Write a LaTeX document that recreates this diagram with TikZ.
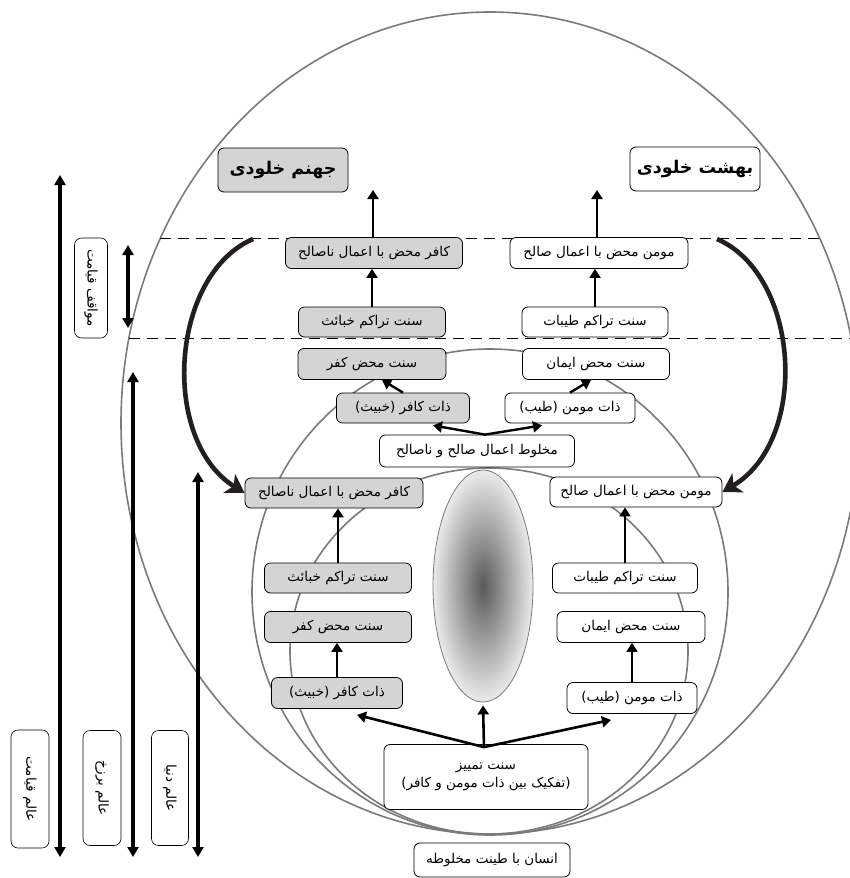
\documentclass[tikz,border=0pt]{standalone}
\usepackage{fontspec}
\usetikzlibrary{arrows.meta,shapes.geometric,calc}
\TeXXeTstate=1
\newfontfamily\farsifont[Script=Arabic]{DejaVu Sans}
\newcommand{\myrtl}[1]{\beginR #1\endR}
\definecolor{boxgray}{HTML}{D4D4D4}
\definecolor{curvegray}{HTML}{7A7A7A}
\definecolor{darkcurve}{HTML}{231F20}
\begin{document}
\begin{tikzpicture}[x=1pt,y=-1pt,
  box/.style={draw, rounded corners=6pt, line width=0.8pt, inner sep=0.5pt,
    minimum height=30pt, font=\farsifont\fontsize{13.5}{15}\selectfont},
  gbox/.style={box, fill=boxgray},
  wbox/.style={box, fill=white},
  titlebox/.style={box, minimum height=44pt, minimum width=130pt,
    font=\farsifont\bfseries\fontsize{17.5}{20}\selectfont},
  sidelabel/.style={draw, rounded corners=7pt, line width=0.6pt, rotate=-90,
    inner sep=1pt, font=\farsifont\fontsize{13.5}{15}\selectfont},
  curve/.style={draw=curvegray, line width=1.6pt},
  arr/.style={line width=2.6pt, -{Triangle[length=9pt,width=11pt]}},
  darr/.style={line width=2.4pt, -{Triangle[length=9pt,width=11pt]}},
  sidearr/.style={line width=3.4pt, {Triangle[length=10pt,width=11pt]}-{Triangle[length=10pt,width=11pt]}},
  bigarr/.style={line width=4.6pt, draw=darkcurve, -{Stealth[length=18pt,width=22pt,inset=5pt]}},
  dashline/.style={line width=0.8pt, dash pattern=on 11pt off 7pt}
]
\useasboundingbox (0,0) rectangle (850,878);
\clip (0,0) rectangle (850,878);

% nested worlds
\draw[curve] (490,423) ellipse [x radius=369pt, y radius=411pt];
\draw[curve] (490,592) ellipse [x radius=238pt, y radius=243pt];
\draw[curve] (489,651) ellipse [x radius=199pt, y radius=183pt];

% dashed boundaries
\coordinate (d1l) at (160,238); \coordinate (d1r) at (820,238);
\coordinate (d2l) at (129,338); \coordinate (d2r) at (851,338);
\draw[dashline] (d1l) -- (d1r);
\draw[dashline] (d2l) -- (d2r);

% shaded middle ellipse
\node[ellipse, draw=curvegray, line width=0.8pt, inner sep=0pt,
  minimum width=100pt, minimum height=232pt,
  shade, inner color=black!65, outer color=black!8] (egg) at (483,586) {};

% top
\node[titlebox, fill=boxgray] (jah) at (283,170) {\myrtl{جهنم خلودی}};
\node[titlebox, fill=white] (bah) at (695,169) {\myrtl{بهشت خلودی}};

% upper column
\node[gbox, minimum width=177pt, minimum height=31pt] (kafU) at (374,253) {\myrtl{کافر محض با اعمال ناصالح}};
\node[wbox, minimum width=178pt, minimum height=31pt] (mumU) at (599,253) {\myrtl{مومن محض با اعمال صالح}};
\node[gbox, minimum width=147pt] (tkU) at (372,322) {\myrtl{سنت تراکم خبائث}};
\node[wbox, minimum width=146pt] (taU) at (595,322) {\myrtl{سنت تراکم طیبات}};
\node[gbox, minimum width=148pt, minimum height=31pt] (smkU) at (372,364) {\myrtl{سنت محض کفر}};
\node[wbox, minimum width=147pt, minimum height=31pt] (smaU) at (596,364) {\myrtl{سنت محض ایمان}};
\node[gbox, minimum width=133pt] (zkU) at (403,408) {\myrtl{ذات کافر (خبیث)}};
\node[wbox, minimum width=130pt] (zmU) at (570,408) {\myrtl{ذات مومن (طیب)}};
\node[wbox, minimum width=195pt, minimum height=32pt] (mix) at (477,451) {\myrtl{مخلوط اعمال صالح و ناصالح}};

% lower column
\node[gbox, minimum width=178pt] (kafL) at (334,493) {\myrtl{کافر محض با اعمال ناصالح}};
\node[wbox, minimum width=172pt] (mumL) at (636,492) {\myrtl{مومن محض با اعمال صالح}};
\node[gbox, minimum width=147pt] (tkL) at (338,578) {\myrtl{سنت تراکم خبائث}};
\node[wbox, minimum width=145pt] (taL) at (625,578) {\myrtl{سنت تراکم طیبات}};
\node[gbox, minimum width=147pt, minimum height=31pt] (smkL) at (338,627) {\myrtl{سنت محض کفر}};
\node[wbox, minimum width=148pt, minimum height=31pt] (smaL) at (631,627) {\myrtl{سنت محض ایمان}};
\node[gbox, minimum width=131pt, minimum height=31pt] (zkL) at (337,693) {\myrtl{ذات کافر (خبیث)}};
\node[wbox, minimum width=130pt, minimum height=31pt] (zmL) at (632,698) {\myrtl{ذات مومن (طیب)}};
\node[wbox, minimum width=204pt, minimum height=65pt, align=center] (tam) at (486,777)
  {\myrtl{سنت تمییز}\\[3pt]\myrtl{(تفکیک بین ذات مومن و کافر)}};
\node[wbox, minimum width=156pt, minimum height=34pt] (ens) at (492,860) {\myrtl{انسان با طینت مخلوطه}};

% side labels
\node[sidelabel, minimum width=100pt, minimum height=33pt] (mow) at (91,288) {\myrtl{مواقف قیامت}};
\node[sidelabel, minimum width=118pt, minimum height=38pt] (qiy) at (30,789) {\myrtl{عالم قیامت}};
\node[sidelabel, minimum width=115pt, minimum height=38pt] (bar) at (102,788) {\myrtl{عالم برزخ}};
\node[sidelabel, minimum width=115pt, minimum height=37pt] (don) at (170,788) {\myrtl{عالم دنیا}};

% side arrows
\coordinate (q1) at (60,175); \coordinate (q2) at (60,857);
\coordinate (m1) at (128,245); \coordinate (m2) at (128,328);
\coordinate (b1) at (133,372); \coordinate (b2) at (133,857);
\coordinate (n1) at (198,472); \coordinate (n2) at (198,857);
\draw[sidearr] (q2) -- (q1);
\draw[sidearr] (m2) -- (m1);
\draw[sidearr] (b2) -- (b1);
\draw[sidearr] (n2) -- (n1);

% arrows to eternity
\coordinate (jt) at (373,190);
\coordinate (bt) at (597,190);
\draw[arr] (kafU.north -| jt) -- (jt);
\draw[arr] (mumU.north -| bt) -- (bt);

% upper vertical arrows
\draw[arr] (tkU.north) -- (tkU.north |- kafU.south);
\draw[arr] (taU.north) -- (taU.north |- mumU.south);
\draw[darr] (zkU.north) -- ([xshift=10pt]smkU.south);
\draw[darr] (zmU.north) -- ([xshift=-5pt]smaU.south);
\draw[darr] ([xshift=8pt]mix.north) -- ([xshift=30pt,yshift=-2pt]zkU.south);
\draw[darr] ([xshift=8pt]mix.north) -- ([xshift=-28pt,yshift=-2pt]zmU.south);

% lower vertical arrows
\draw[arr] (zkL.north) -- (zkL.north |- smkL.south);
\draw[arr] (tkL.north) -- (tkL.north |- kafL.south);
\draw[arr] (zmL.north) -- (zmL.north |- smaL.south);
\draw[arr] (taL.north) -- (taL.north |- mumL.south);

% tamyiz arrows
\coordinate (tp) at ($(tam.north)+(-2,3)$);
\draw[arr] (tp) -- ([xshift=20pt,yshift=-6pt]zkL.south);
\draw[arr] (tp) -- ([xshift=-21pt,yshift=-6pt]zmL.south);
\draw[arr] (tp) -- ([yshift=-3pt]egg.south);

% big curved arrows (return from qiyamat stations)
\coordinate (ls) at (253,239);
\coordinate (rs) at (717,239);
\draw[bigarr] (ls) .. controls (170,275) and (160,440) .. (kafL.west);
\draw[bigarr] (rs) .. controls (800,275) and (810,440) .. (mumL.east);
\end{tikzpicture}
\end{document}
